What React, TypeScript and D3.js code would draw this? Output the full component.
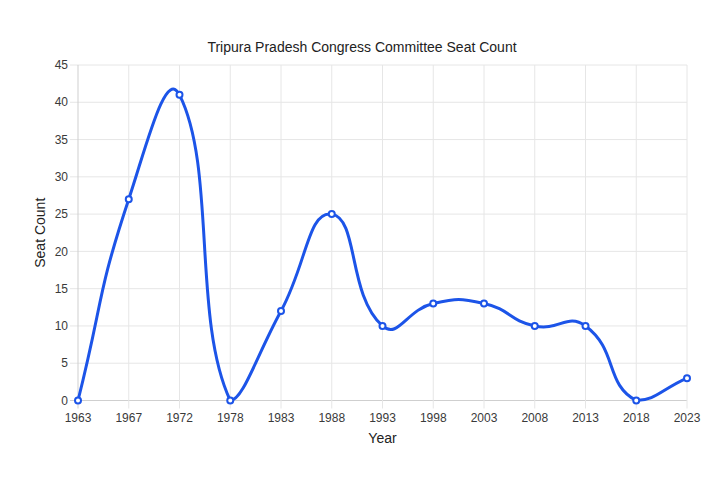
import React from "react";
import * as d3 from "d3";

const years = ["1963", "1967", "1972", "1978", "1983", "1988", "1993", "1998", "2003", "2008", "2013", "2018", "2023"];
const seats = [0, 27, 41, 0, 12, 25, 10, 13, 13, 10, 10, 0, 3];
const yTicks = [0, 5, 10, 15, 20, 25, 30, 35, 40, 45];

const W = 720, H = 480;
const area = { left: 78, right: 687, top: 65, bottom: 400.5 };
const BLUE = "#1c54e8";
const FONT = "'Liberation Sans', Arial, Helvetica, sans-serif";

type P = { x: number; y: number; cpx?: number; cpy?: number; cnx?: number; cny?: number };

function buildPath(pts: P[], t: number) {
  const n = pts.length;
  for (let i = 0; i < n; i++) {
    const cur = pts[i];
    const prev = pts[i - 1] || cur;
    const next = pts[i + 1] || cur;
    const d01 = Math.hypot(cur.x - prev.x, cur.y - prev.y);
    const d12 = Math.hypot(next.x - cur.x, next.y - cur.y);
    let s01 = d01 / (d01 + d12);
    let s12 = d12 / (d01 + d12);
    if (isNaN(s01)) s01 = 0;
    if (isNaN(s12)) s12 = 0;
    const fa = t * s01, fb = t * s12;
    cur.cpx = cur.x - fa * (next.x - prev.x);
    cur.cpy = cur.y - fa * (next.y - prev.y);
    cur.cnx = cur.x + fb * (next.x - prev.x);
    cur.cny = cur.y + fb * (next.y - prev.y);
  }
  const clampX = (v: number) => Math.max(area.left, Math.min(area.right, v));
  const clampY = (v: number) => Math.max(area.top, Math.min(area.bottom, v));
  for (const p of pts) {
    p.cpx = clampX(p.cpx!); p.cnx = clampX(p.cnx!);
    p.cpy = clampY(p.cpy!); p.cny = clampY(p.cny!);
  }
  const path = d3.path();
  path.moveTo(pts[0].x, pts[0].y);
  for (let i = 1; i < n; i++) {
    const a = pts[i - 1], b = pts[i];
    path.bezierCurveTo(a.cnx!, a.cny!, b.cpx!, b.cpy!, b.x, b.y);
  }
  return path.toString();
}

export default function App() {
  const x = d3.scalePoint<string>().domain(years).range([area.left, area.right]);
  const y = d3.scaleLinear().domain([0, 45]).range([area.bottom, area.top]);
  const pts: P[] = years.map((yr, i) => ({ x: x(yr)!, y: y(seats[i]) }));
  const d = buildPath(pts.map((p) => ({ ...p })), 0.5);

  return (
    <svg width={W} height={H} style={{ position: "absolute", left: 0, top: 0, background: "#fff" }} fontFamily={FONT}>
      <rect width={W} height={H} fill="#fff" />
      {yTicks.map((t) => (
        <line key={"h" + t} x1={area.left - 8} x2={area.right} y1={y(t)} y2={y(t)} stroke={t === 0 ? "#cfcfcf" : "#e6e6e6"} strokeWidth={1} />
      ))}
      {years.map((yr, i) => (
        <line key={"v" + yr} x1={x(yr)} x2={x(yr)} y1={area.top} y2={area.bottom + 8} stroke={i === 0 ? "#cfcfcf" : "#e6e6e6"} strokeWidth={1} />
      ))}
      {yTicks.map((t) => (
        <text key={"yl" + t} x={68} y={y(t)} dy="0.35em" textAnchor="end" fontSize={12} fill="#3a3a3a">{t}</text>
      ))}
      {years.map((yr) => (
        <text key={"xl" + yr} x={x(yr)} y={421.5} textAnchor="middle" fontSize={12} fill="#3a3a3a">{yr}</text>
      ))}
      <text x={362} y={52} textAnchor="middle" fontSize={14} fill="#222">Tripura Pradesh Congress Committee Seat Count</text>
      <text x={382.5} y={443} textAnchor="middle" fontSize={14} fill="#222">Year</text>
      <text transform={`translate(45,${(area.top + area.bottom) / 2}) rotate(-90)`} textAnchor="middle" fontSize={14} fill="#222">Seat Count</text>
      <path d={d} fill="none" stroke={BLUE} strokeWidth={3} strokeLinejoin="round" />
      {pts.map((p, i) => (
        <circle key={"c" + i} cx={p.x} cy={p.y} r={3} fill="#fff" stroke={BLUE} strokeWidth={2} />
      ))}
    </svg>
  );
}
